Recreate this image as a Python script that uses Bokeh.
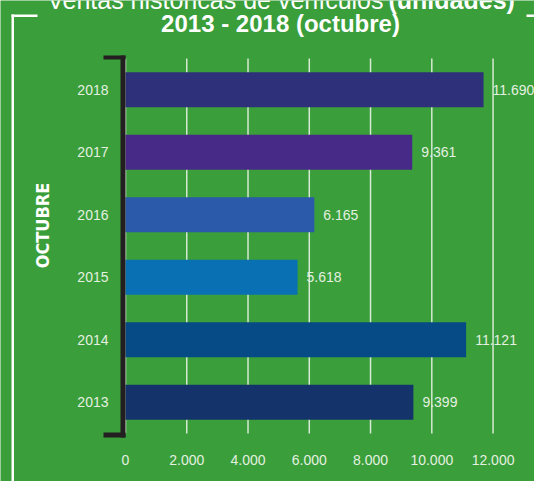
from bokeh.plotting import figure
from bokeh.models import ColumnDataSource, BoxAnnotation, Label, Range1d
from bokeh.embed import file_html
from bokeh.resources import INLINE
from bokeh.core.properties import value
import math

# ---- data ----
years = ["2013", "2014", "2015", "2016", "2017", "2018"]
sales = [9399, 11121, 5618, 6165, 9361, 11690]
value_labels = ["9.399", "11.121", "5.618", "6.165", "9.361", "11.690"]
bar_colors = ["#15336b", "#064b86", "#0870b3", "#2a5aa9", "#472a87", "#2e3079"]
x_ticks = [0, 2000, 4000, 6000, 8000, 10000, 12000]
x_tick_labels = ["0", "2.000", "4.000", "6.000", "8.000", "10.000", "12.000"]
title_line1 = "Ventas históricas de vehículos"
title_line1_bold = "(unidades)"
title_line2 = "2013 - 2018 (octubre)"
side_label = "OCTUBRE"

BG = "#3a9e3a"
TXT = "#e4f0e0"
SANS = "'Liberation Sans', Arial, sans-serif"
COND = "'DejaVu Sans Condensed', 'Liberation Sans', sans-serif"
DARK = "#231f20"
GRID = "#d6e9d2"

pos = list(range(len(years)))  # category slots, 2013 at the bottom
src = ColumnDataSource(dict(pos=pos, year=years, sales=sales, label=value_labels, color=bar_colors))
tick_src = ColumnDataSource(dict(x=x_ticks, label=x_tick_labels))

p = figure(width=534, height=481, title=None,
           x_range=Range1d(-4081, 13353), y_range=Range1d(-1.268, 6.428),
           x_axis_type=None, y_axis_type=None,
           output_backend="svg", toolbar_location=None, min_border=0,
           background_fill_color=BG, border_fill_color=BG, outline_line_color=None)

band_lo, band_hi = pos[0] - 0.5, pos[-1] + 0.5

# vertical grid lines (limited to the category band)
p.segment(x0="x", x1="x", y0=band_lo, y1=band_hi, line_color=GRID, line_width=1.5,
          source=tick_src)

p.hbar(y="pos", left=0, right="sales", height=0.56, fill_color="color",
       line_color=None, source=src)

# value labels
p.text(x="sales", y="pos", text="label", x_offset=9, text_baseline="middle",
       text_font=value(SANS), text_font_size="14px", text_color=TXT, source=src)
# category (year) labels
p.text(x=0, y="pos", text="year", x_offset=-17, text_align="right", text_baseline="middle",
       text_font=value(SANS), text_font_size="14px", text_color=TXT, source=src)
# x tick labels
p.text(x="x", y=band_lo, text="label", y_offset=26, text_align="center",
       text_baseline="middle", text_font=value(SANS), text_font_size="14px",
       text_color=TXT, source=tick_src)


def box(l, r, t, b, color):
    return BoxAnnotation(left=l, right=r, top=t, bottom=b,
                         left_units="canvas", right_units="canvas",
                         top_units="canvas", bottom_units="canvas",
                         fill_color=color, fill_alpha=1.0, line_color=None)

# bracket
p.add_layout(box(120, 125, 55, 437, DARK))
p.add_layout(box(103, 125, 55, 59, DARK))
p.add_layout(box(103, 125, 432, 437, DARK))
# white frame lines
p.add_layout(box(11, 13.5, 14, 481, "white"))
p.add_layout(box(11, 37, 14, 16.5, "white"))
p.add_layout(box(526, 534, 14, 16.5, "white"))

# titles
p.add_layout(Label(x=383, y=-0.5, x_units="canvas", y_units="canvas", text=title_line1,
                   text_align="right", text_baseline="alphabetic", text_color="white",
                   text_font=SANS, text_font_size="25px"))
p.add_layout(Label(x=388, y=-0.5, x_units="canvas", y_units="canvas", text=title_line1_bold,
                   text_align="left", text_baseline="alphabetic", text_color="white",
                   text_font=SANS, text_font_size="25px", text_font_style="bold"))
p.add_layout(Label(x=280, y=23.4, x_units="canvas", y_units="canvas", text=title_line2,
                   text_align="center", text_baseline="alphabetic", text_color="white",
                   text_font=SANS, text_font_size="24px", text_font_style="bold"))
p.add_layout(Label(x=42, y=225, x_units="canvas", y_units="canvas", text=side_label,
                   angle=math.pi / 2, text_align="center", text_baseline="middle",
                   text_color="white", text_font=COND, text_font_size="18px",
                   text_font_style="bold"))

open("out.html", "w").write(file_html(p, INLINE))
